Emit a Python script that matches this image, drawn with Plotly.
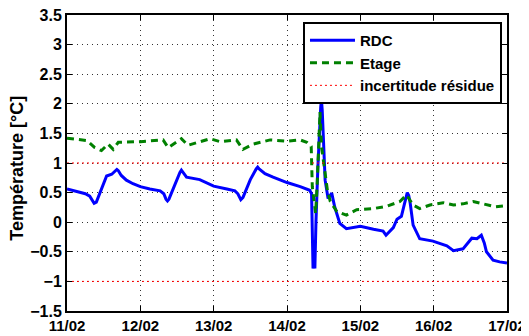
import plotly.graph_objects as go

# --- data (x = day of February) ---
rdc_day = [11.00, 11.11, 11.25, 11.31, 11.35, 11.37, 11.40, 11.42, 11.49, 11.54, 11.61, 11.66, 11.68, 11.70,
           11.74, 11.81, 11.90, 12.00, 12.13, 12.27, 12.32, 12.35, 12.37, 12.39, 12.42, 12.49, 12.54,
           12.56, 12.58, 12.63, 12.81, 13.00, 13.18, 13.29, 13.33, 13.35, 13.37, 13.40, 13.43, 13.50,
           13.58, 13.60, 13.62, 13.70, 13.81, 14.00, 14.18, 14.31,
           14.335, 14.345, 14.355, 14.37, 14.38, 14.395, 14.42, 14.46, 14.47, 14.48, 14.50, 14.52, 14.56,
           14.61, 14.65, 14.72, 14.81, 15.00, 15.18, 15.31, 15.35, 15.45, 15.50, 15.56, 15.60,
           15.63, 15.64, 15.66, 15.68, 15.72, 15.81, 15.99, 16.18, 16.27, 16.40, 16.52, 16.59, 16.65, 16.69,
           16.72, 16.81, 16.90, 17.00]
rdc_val = [0.56, 0.53, 0.48, 0.44, 0.36, 0.32, 0.34, 0.40, 0.63, 0.78, 0.81, 0.87, 0.89, 0.87,
           0.79, 0.71, 0.65, 0.60, 0.56, 0.53, 0.48, 0.39, 0.36, 0.39, 0.48, 0.72, 0.84,
           0.88, 0.85, 0.76, 0.72, 0.61, 0.56, 0.53, 0.48, 0.42, 0.38, 0.42, 0.52, 0.72,
           0.90, 0.93, 0.90, 0.82, 0.76, 0.67, 0.60, 0.54,
           0.48, -0.55, -0.78, -0.68, -0.78, 0.01, 0.90, 1.95, 2.06, 1.90, 1.20, 0.71, 0.40,
           0.49, 0.26, -0.02, -0.11, -0.07, -0.12, -0.15, -0.22, -0.09, 0.05, 0.10, 0.30,
           0.46, 0.50, 0.45, 0.32, -0.05, -0.28, -0.32, -0.40, -0.48, -0.45, -0.27, -0.28, -0.22, -0.35,
           -0.50, -0.64, -0.67, -0.69]

etage_day = [11.00, 11.15, 11.27, 11.38, 11.47, 11.56, 11.63, 11.70, 12.00, 12.31, 12.38,
             12.56, 12.65, 12.95, 13.09, 13.31, 13.40, 13.54, 13.77, 14.00, 14.18, 14.27,
             14.33, 14.345, 14.39, 14.41, 14.45, 14.47, 14.52, 14.55, 14.59, 14.68, 14.81,
             14.95, 15.18, 15.36, 15.54, 15.63, 15.72, 15.81, 15.95, 16.13, 16.27, 16.40,
             16.54, 16.68, 16.84, 17.00]
etage_val = [1.42, 1.40, 1.38, 1.26, 1.21, 1.32, 1.23, 1.35, 1.36, 1.39, 1.26,
             1.41, 1.30, 1.41, 1.36, 1.39, 1.23, 1.32, 1.39, 1.37, 1.39, 1.35,
             1.28, 0.60, 0.15, 0.60, 1.86, 1.28, 0.77, 0.55, 0.35, 0.18, 0.12,
             0.21, 0.23, 0.27, 0.35, 0.46, 0.29, 0.23, 0.29, 0.33, 0.29, 0.31,
             0.35, 0.31, 0.26, 0.28]

unc_day = [11, 17]
unc_upper = [1, 1]
unc_lower = [-1, -1]

x_ticks = [11, 12, 13, 14, 15, 16, 17]
x_labels = ["11/02", "12/02", "13/02", "14/02", "15/02", "16/02", "17/02"]
y_ticks = [-1.5, -1, -0.5, 0, 0.5, 1, 1.5, 2, 2.5, 3, 3.5]
y_labels = ["\u22121.5", "\u22121", "\u22120.5", "0", "0.5", "1", "1.5", "2", "2.5", "3", "3.5"]
y_title = "Température [°C]"
series_names = ["RDC", "Etage", "incertitude résidue"]

FONT = "Arial, Liberation Sans, sans-serif"


def b(s):
    return "<b>" + s + "</b>"


fig = go.Figure()
fig.add_trace(go.Scatter(x=rdc_day, y=rdc_val, mode="lines", name=b(series_names[0]),
                         line=dict(color="#0000FF", width=3)))
fig.add_trace(go.Scatter(x=etage_day, y=etage_val, mode="lines", name=b(series_names[1]),
                         line=dict(color="#008000", width=3, dash="7px,5px")))
fig.add_trace(go.Scatter(x=unc_day, y=unc_upper, mode="lines", name=b(series_names[2]),
                         line=dict(color="#FF0000", width=1, dash="2px,3px")))
fig.add_trace(go.Scatter(x=unc_day, y=unc_lower, mode="lines", name=b(series_names[2]),
                         showlegend=False,
                         line=dict(color="#FF0000", width=1, dash="2px,3px")))

axis_common = dict(showline=True, linecolor="black", linewidth=2, mirror="ticks",
                   ticks="inside", ticklen=5, tickwidth=1, tickcolor="black",
                   showgrid=True, gridcolor="#333333", gridwidth=1, griddash="1px,4px",
                   zeroline=False, automargin=False, ticklabeloverflow="allow")

fig.update_xaxes(range=[11, 17], tickmode="array", tickvals=x_ticks,
                 ticktext=[b(t) for t in x_labels],
                 tickfont=dict(family=FONT, size=15, color="black", weight=700),
                 **axis_common)
fig.update_yaxes(range=[-1.5, 3.5], tickmode="array", tickvals=y_ticks,
                 ticktext=[b(t) for t in y_labels],
                 tickfont=dict(family=FONT, size=16, color="black", weight=700),
                 **axis_common)

fig.add_annotation(text=b(y_title), xref="paper", yref="paper",
                   x=-0.1136, y=0.481, xanchor="center", yanchor="middle",
                   textangle=-90, showarrow=False,
                   font=dict(family=FONT, size=18, color="black", weight=700))

# the page body has an 8px margin: figure offset so the plot area sits where the reference has it
fig.update_layout(
    width=529, height=328,
    margin=dict(l=59, r=30, t=7, b=25),
    paper_bgcolor="white", plot_bgcolor="white",
    showlegend=True,
    legend=dict(x=0.9886, y=0.976, xanchor="right", yanchor="top",
                bgcolor="white", bordercolor="black", borderwidth=2,
                font=dict(family=FONT, size=15, color="black", weight=700),
                itemwidth=45, tracegroupgap=0),
)

fig.write_html("out.html")
